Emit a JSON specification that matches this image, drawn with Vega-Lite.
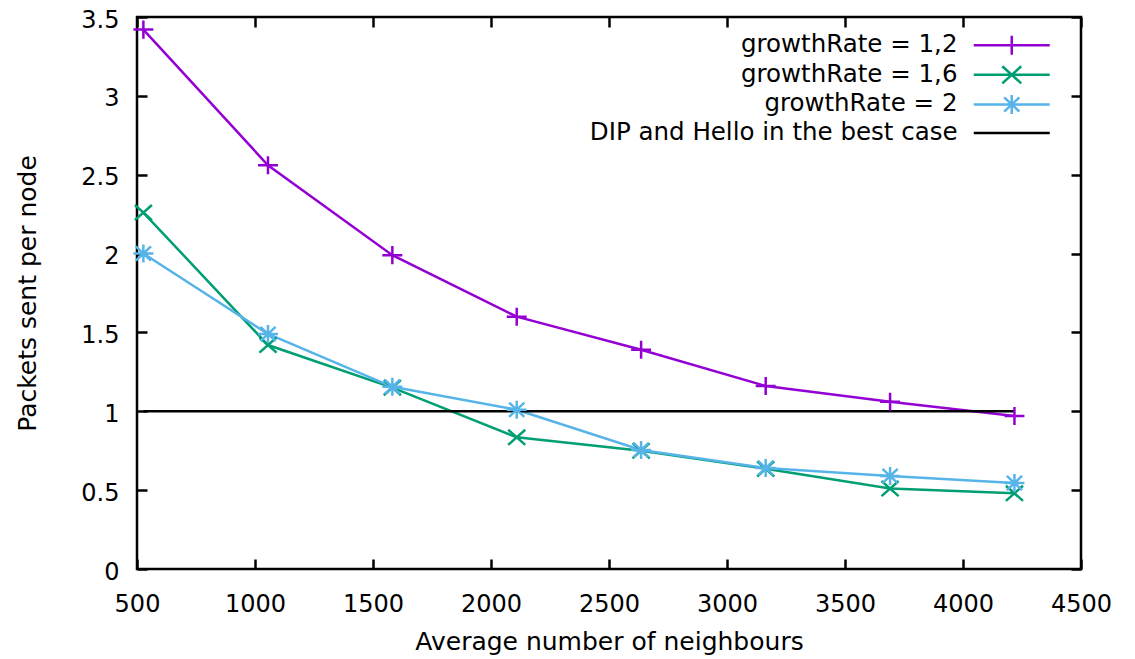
{
  "$schema": "https://vega.github.io/schema/vega-lite/v6.json",
  "width": 944,
  "height": 552,
  "autosize": {"type": "none"},
  "padding": {"left": 137, "top": 17, "right": 54, "bottom": 90},
  "background": "white",
  "config": {
    "view": {"stroke": "black", "strokeWidth": 2.5},
    "font": "DejaVu Sans",
    "axis": {
      "labelFont": "DejaVu Sans", "labelFontSize": 24, "labelColor": "black", "labelFlush": false,
      "titleFont": "DejaVu Sans", "titleFontSize": 25, "titleFontWeight": "normal", "titleColor": "black",
      "tickColor": "black", "tickWidth": 2.5, "tickSize": -10, "domain": false, "grid": false
    },
    "legend": {
      "orient": "none", "legendX": 862.5, "legendY": 16, "padding": 0, "offset": 0,
      "labelFont": "DejaVu Sans", "labelFontSize": 24.5, "labelColor": "black",
      "labelAlign": "right", "labelOffset": -66.5, "labelLimit": 600,
      "symbolSize": 361, "symbolStrokeWidth": 2.5, "symbolOpacity": 1, "symbolFillColor": "transparent",
      "rowPadding": 0.6
    }
  },
  "data": {
    "values": [
      {"series": "growthRate = 1,2", "x": 527, "y": 3.42},
      {"series": "growthRate = 1,2", "x": 1055, "y": 2.56},
      {"series": "growthRate = 1,2", "x": 1582, "y": 1.99},
      {"series": "growthRate = 1,2", "x": 2109, "y": 1.60},
      {"series": "growthRate = 1,2", "x": 2636, "y": 1.39},
      {"series": "growthRate = 1,2", "x": 3164, "y": 1.16},
      {"series": "growthRate = 1,2", "x": 3691, "y": 1.06},
      {"series": "growthRate = 1,2", "x": 4218, "y": 0.97},
      {"series": "growthRate = 1,6", "x": 527, "y": 2.26},
      {"series": "growthRate = 1,6", "x": 1055, "y": 1.42},
      {"series": "growthRate = 1,6", "x": 1582, "y": 1.15},
      {"series": "growthRate = 1,6", "x": 2109, "y": 0.835},
      {"series": "growthRate = 1,6", "x": 2636, "y": 0.75},
      {"series": "growthRate = 1,6", "x": 3164, "y": 0.635},
      {"series": "growthRate = 1,6", "x": 3691, "y": 0.51},
      {"series": "growthRate = 1,6", "x": 4218, "y": 0.48},
      {"series": "growthRate = 2", "x": 527, "y": 2.0},
      {"series": "growthRate = 2", "x": 1055, "y": 1.49},
      {"series": "growthRate = 2", "x": 1582, "y": 1.155},
      {"series": "growthRate = 2", "x": 2109, "y": 1.01},
      {"series": "growthRate = 2", "x": 2636, "y": 0.755},
      {"series": "growthRate = 2", "x": 3164, "y": 0.64},
      {"series": "growthRate = 2", "x": 3691, "y": 0.59},
      {"series": "growthRate = 2", "x": 4218, "y": 0.545},
      {"series": "DIP and Hello in the best case", "x": 527, "y": 1},
      {"series": "DIP and Hello in the best case", "x": 1055, "y": 1},
      {"series": "DIP and Hello in the best case", "x": 1582, "y": 1},
      {"series": "DIP and Hello in the best case", "x": 2109, "y": 1},
      {"series": "DIP and Hello in the best case", "x": 2636, "y": 1},
      {"series": "DIP and Hello in the best case", "x": 3164, "y": 1},
      {"series": "DIP and Hello in the best case", "x": 3691, "y": 1},
      {"series": "DIP and Hello in the best case", "x": 4218, "y": 1}
    ]
  },
  "layer": [
    {
      "mark": {"type": "line", "strokeWidth": 2.5},
      "encoding": {
        "x": {"field": "x", "type": "quantitative",
          "scale": {"domain": [500, 4500], "nice": false, "zero": false},
          "axis": {"orient": "bottom", "values": [500, 1000, 1500, 2000, 2500, 3000, 3500, 4000, 4500], "format": "d",
            "title": "Average number of neighbours", "labelPadding": 33, "titlePadding": 13}},
        "y": {"field": "y", "type": "quantitative",
          "scale": {"domain": [0, 3.5], "nice": false, "zero": false},
          "axis": {"orient": "left", "values": [0, 0.5, 1, 1.5, 2, 2.5, 3, 3.5], "format": "~g",
            "title": "Packets sent per node", "labelPadding": 28, "labelOffset": 3, "titlePadding": 40}},
        "color": {"field": "series", "type": "nominal",
          "scale": {"domain": ["growthRate = 1,2", "growthRate = 1,6", "growthRate = 2", "DIP and Hello in the best case"],
            "range": ["#9400d3", "#009e73", "#56b4e9", "#000000"]},
          "legend": null}
      }
    },
    {
      "transform": [{"filter": "datum.series !== 'DIP and Hello in the best case'"}],
      "mark": {"type": "point", "filled": false, "strokeWidth": 2.5, "size": 361, "opacity": 1},
      "encoding": {
        "x": {"field": "x", "type": "quantitative", "scale": {"domain": [500, 4500], "nice": false, "zero": false}, "axis": null},
        "y": {"field": "y", "type": "quantitative", "scale": {"domain": [0, 3.5], "nice": false, "zero": false}, "axis": null},
        "color": {"field": "series", "type": "nominal",
          "scale": {"domain": ["growthRate = 1,2", "growthRate = 1,6", "growthRate = 2", "DIP and Hello in the best case"],
            "range": ["#9400d3", "#009e73", "#56b4e9", "#000000"]},
          "legend": null},
        "shape": {"field": "series", "type": "nominal",
          "scale": {"domain": ["growthRate = 1,2", "growthRate = 1,6", "growthRate = 2"],
            "range": ["M-1.05,0L1.05,0M0,-0.95L0,0.95", "M-0.9,-0.8L0.9,0.8M-0.9,0.8L0.9,-0.8", "M-1.05,0L1.05,0M0,-0.95L0,0.95M-0.8,-0.75L0.8,0.75M-0.8,0.75L0.8,-0.75"]},
          "legend": null}
      }
    },
    {
      "mark": {"type": "point", "filled": false, "strokeWidth": 2.5, "size": 361, "opacity": 0},
      "encoding": {
        "x": {"field": "x", "type": "quantitative", "scale": {"domain": [500, 4500], "nice": false, "zero": false},
          "axis": {"orient": "top", "values": [500, 1000, 1500, 2000, 2500, 3000, 3500, 4000, 4500], "labels": false, "title": null}},
        "y": {"field": "y", "type": "quantitative", "scale": {"domain": [0, 3.5], "nice": false, "zero": false},
          "axis": {"orient": "right", "values": [0, 0.5, 1, 1.5, 2, 2.5, 3, 3.5], "labels": false, "title": null}},
        "color": {"field": "series", "type": "nominal",
          "scale": {"domain": ["growthRate = 1,2", "growthRate = 1,6", "growthRate = 2", "DIP and Hello in the best case"],
            "range": ["#9400d3", "#009e73", "#56b4e9", "#000000"]},
          "legend": {"title": null}},
        "shape": {"field": "series", "type": "nominal",
          "scale": {"domain": ["growthRate = 1,2", "growthRate = 1,6", "growthRate = 2", "DIP and Hello in the best case"],
            "range": ["M-4,0L4,0M0,-1L0,1", "M-4,0L4,0M-1,-0.9L1,0.9M-1,0.9L1,-0.9", "M-4,0L4,0M0,-1L0,1M-0.8,-0.75L0.8,0.75M-0.8,0.75L0.8,-0.75", "M-4,0L4,0"]},
          "legend": {"title": null}}
      }
    }
  ],
  "resolve": {"scale": {"x": "independent", "y": "independent", "color": "independent", "shape": "independent"}}
}
